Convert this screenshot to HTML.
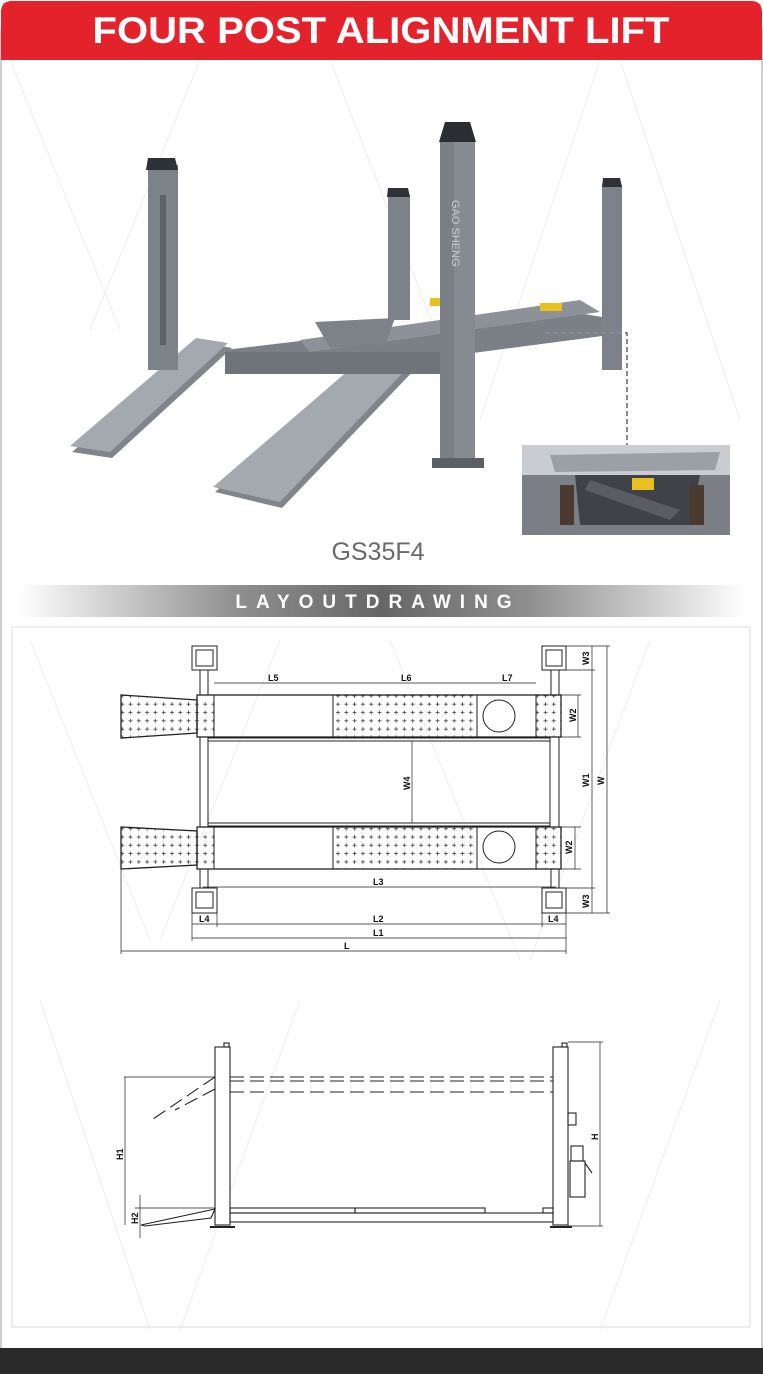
<!DOCTYPE html>
<html><head><meta charset="utf-8"><style>
html,body{margin:0;padding:0;background:#fff;width:763px;height:1374px;overflow:hidden}
svg{display:block}
text{font-family:"Liberation Sans",sans-serif}
</style></head><body>
<svg width="763" height="1374" viewBox="0 0 763 1374" xmlns="http://www.w3.org/2000/svg">
<defs>
<linearGradient id="bg" x1="0" x2="1"><stop offset="0" stop-color="#fff"/><stop offset="0.3" stop-color="#8f8f8f"/><stop offset="0.5" stop-color="#666"/><stop offset="0.7" stop-color="#8f8f8f"/><stop offset="1" stop-color="#fff"/></linearGradient>
<pattern id="pl" x="2" y="3" width="8.3" height="8.3" patternUnits="userSpaceOnUse">
<path d="M4 2 V6 M2 4 H6" stroke="#333" stroke-width="0.7"/>
</pattern>
</defs>
<rect width="763" height="1374" fill="#fff"/>
<rect x="1" y="30" width="761" height="1330" fill="none" stroke="#bdbdbd" stroke-width="1.5"/>
<path d="M1 60 V12 Q1 1 12 1 H751 Q762 1 762 12 V60 Z" fill="#e4222b"/>
<text x="381" y="43" text-anchor="middle" font-size="37" font-weight="bold" fill="#fff" textLength="577" lengthAdjust="spacingAndGlyphs">FOUR POST ALIGNMENT LIFT</text>
<g stroke="#f0f0f0" stroke-width="1.2" fill="none">
<path d="M10 60 L120 330 M200 60 L90 330 M330 60 L470 420 M600 60 L480 420 M620 60 L740 420"/>
<path d="M30 640 L150 940 M280 640 L160 940 M390 640 L520 960 M650 640 L530 960 M40 1000 L150 1330 M300 1000 L180 1330 M720 1000 L600 1330"/>
</g>
<!-- photo -->
<polygon points="72,452 112,458 232,348 200,342" fill="#80858b"/>
<polygon points="70,446 110,452 228,343 196,338" fill="#a4a9af"/>
<polygon points="215,492 282,508 420,364 375,356" fill="#80858b"/>
<polygon points="213,487 280,502 416,359 371,351" fill="#a4a9af"/>
<polygon points="225,350 560,310 620,320 610,335 420,360 230,370" fill="#7b8086"/>
<polygon points="300,340 580,300 600,312 310,352" fill="#8d9298"/>
<rect x="225" y="352" width="230" height="22" fill="#6f747a"/>
<polygon points="315,322 395,318 385,345 330,348" fill="#7d8288"/>
<rect x="430" y="298" width="10" height="8" fill="#e8c020"/>
<rect x="540" y="303" width="22" height="8" fill="#e8c020"/>
<rect x="148" y="165" width="30" height="205" fill="#7d8288"/>
<rect x="160" y="195" width="6" height="150" fill="#5d6268"/>
<polygon points="148,158 175,158 178,170 146,170" fill="#2e3236"/>
<rect x="388" y="195" width="22" height="125" fill="#7d8288"/>
<polygon points="388,188 408,188 410,197 387,197" fill="#2e3236"/>
<rect x="602" y="185" width="20" height="185" fill="#7d8288"/>
<polygon points="603,178 620,178 622,187 602,187" fill="#2e3236"/>
<rect x="440" y="140" width="35" height="322" fill="#868b91"/>
<rect x="440" y="140" width="14" height="322" fill="#7a7f85"/>
<polygon points="445,122 470,122 476,142 439,142" fill="#2a2e32"/>
<rect x="432" y="458" width="52" height="10" fill="#5b6066"/>
<text x="452" y="200" font-size="11" fill="#c9ccd0" transform="rotate(90 452 200)">GAO SHENG</text>
<path d="M545 333 H627 V445" fill="none" stroke="#8a8a8a" stroke-width="2" stroke-dasharray="5,3"/>
<rect x="522" y="445" width="208" height="90" fill="#7c8086"/>
<rect x="522" y="445" width="208" height="30" fill="#c9ccd0"/>
<polygon points="550,455 720,452 715,470 555,472" fill="#9aa0a6"/>
<polygon points="575,475 700,475 690,525 580,525" fill="#3f4347"/>
<polygon points="590,480 680,510 670,520 585,490" fill="#5a5e62"/>
<rect x="632" y="478" width="22" height="12" fill="#e8c020"/>
<rect x="560" y="485" width="14" height="40" fill="#4a3a30"/>
<rect x="690" y="485" width="14" height="40" fill="#4a3a30"/>
<text x="378" y="560" text-anchor="middle" font-size="25" fill="#6a6a6a">GS35F4</text>
<rect x="18" y="585" width="729" height="32" fill="url(#bg)"/>
<text x="378" y="608" text-anchor="middle" font-size="19" font-weight="bold" fill="#fff" letter-spacing="9">LAYOUTDRAWING</text>
<rect x="12" y="627" width="738" height="700" fill="none" stroke="#dcdcdc" stroke-width="1"/>
<!-- TOP VIEW -->
<g stroke="#222" stroke-width="1" fill="none">
<rect x="192" y="646" width="25" height="24" fill="#fff"/><rect x="196" y="650" width="17" height="16"/>
<rect x="542" y="646" width="24" height="24" fill="#fff"/><rect x="546" y="650" width="16" height="16"/>
<rect x="192" y="888" width="25" height="25" fill="#fff"/><rect x="196" y="892" width="17" height="16"/>
<rect x="542" y="888" width="24" height="25" fill="#fff"/><rect x="546" y="892" width="16" height="16"/>
<rect x="200" y="670" width="8" height="25"/><rect x="551" y="670" width="8" height="25"/>
<rect x="200" y="869" width="8" height="19"/><rect x="551" y="869" width="8" height="19"/>
<rect x="200" y="737" width="8" height="90"/><rect x="550" y="737" width="9" height="90"/>
<line x1="208" y1="738" x2="550" y2="738"/><line x1="208" y1="741" x2="550" y2="741"/>
<line x1="208" y1="823" x2="550" y2="823"/><line x1="208" y1="826" x2="550" y2="826"/>
<rect x="333" y="695" width="144" height="42" fill="url(#pl)" stroke="none"/>
<rect x="536" y="695" width="25" height="42" fill="url(#pl)" stroke="none"/>
<rect x="333" y="827" width="144" height="42" fill="url(#pl)" stroke="none"/>
<rect x="536" y="827" width="25" height="42" fill="url(#pl)" stroke="none"/>
<rect x="197" y="695" width="364" height="42" stroke-width="1.3"/>
<rect x="197" y="827" width="364" height="42" stroke-width="1.3"/>
<line x1="214" y1="695" x2="214" y2="737"/><line x1="333" y1="695" x2="333" y2="737"/><line x1="477" y1="695" x2="477" y2="737"/><line x1="536" y1="695" x2="536" y2="737"/>
<line x1="214" y1="827" x2="214" y2="869"/><line x1="333" y1="827" x2="333" y2="869"/><line x1="477" y1="827" x2="477" y2="869"/><line x1="536" y1="827" x2="536" y2="869"/>
<circle cx="499" cy="716" r="16"/><circle cx="499" cy="847" r="16"/>
<polygon points="121,695 197,700 197,733 121,738" stroke-width="1.3" fill="url(#pl)"/>
<polygon points="121,827 197,831 197,865 121,869" stroke-width="1.3" fill="url(#pl)"/>
<rect x="197" y="700" width="17" height="33" fill="url(#pl)" stroke="none"/>
<rect x="197" y="831" width="17" height="34" fill="url(#pl)" stroke="none"/>
<g stroke-width="0.7">
<line x1="214" y1="683" x2="536" y2="683"/>
<line x1="412" y1="741" x2="412" y2="823"/>
<line x1="203" y1="887" x2="556" y2="887"/>
<line x1="192" y1="924" x2="566" y2="924"/>
<line x1="192" y1="938" x2="566" y2="938"/>
<line x1="121" y1="951" x2="566" y2="951"/>
<line x1="121" y1="869" x2="121" y2="954"/><line x1="192" y1="913" x2="192" y2="941"/><line x1="566" y1="913" x2="566" y2="954"/>
<line x1="217" y1="913" x2="217" y2="927"/><line x1="542" y1="913" x2="542" y2="927"/>
<line x1="566" y1="646" x2="610" y2="646"/><line x1="566" y1="670" x2="595" y2="670"/><line x1="566" y1="888" x2="595" y2="888"/><line x1="566" y1="913" x2="610" y2="913"/>
<line x1="561" y1="695" x2="581" y2="695"/><line x1="561" y1="737" x2="581" y2="737"/><line x1="561" y1="827" x2="581" y2="827"/><line x1="561" y1="869" x2="581" y2="869"/>
<line x1="592" y1="646" x2="592" y2="913"/><line x1="607" y1="646" x2="607" y2="913"/>
<line x1="578" y1="695" x2="578" y2="737"/><line x1="575" y1="827" x2="575" y2="869"/>
</g>
</g>
<g fill="#111" font-size="9" font-weight="bold">
<text x="268" y="681">L5</text><text x="401" y="681">L6</text><text x="502" y="681">L7</text>
<text x="373" y="885">L3</text><text x="373" y="922">L2</text><text x="373" y="936">L1</text><text x="344" y="949">L</text>
<text x="199" y="922">L4</text><text x="548" y="922">L4</text>
<text transform="translate(410 790) rotate(-90)">W4</text>
<text transform="translate(589 665) rotate(-90)">W3</text><text transform="translate(589 908) rotate(-90)">W3</text>
<text transform="translate(589 787) rotate(-90)">W1</text><text transform="translate(604 785) rotate(-90)">W</text>
<text transform="translate(576 722) rotate(-90)">W2</text><text transform="translate(572 854) rotate(-90)">W2</text>
</g>
<!-- SIDE VIEW -->
<g stroke="#222" stroke-width="1.1" fill="none">
<rect x="215" y="1047" width="15" height="178" fill="#fff"/><rect x="553" y="1047" width="15" height="178" fill="#fff"/>
<rect x="224" y="1043" width="5" height="4"/><rect x="562" y="1043" width="5" height="4"/>
<line x1="210" y1="1227" x2="235" y2="1227" stroke-width="2"/><line x1="550" y1="1227" x2="572" y2="1227" stroke-width="2"/>
<g stroke-dasharray="14,6"><line x1="230" y1="1077" x2="553" y2="1077"/><line x1="230" y1="1081" x2="553" y2="1081"/><line x1="230" y1="1092" x2="553" y2="1092"/>
<line x1="215" y1="1077" x2="153" y2="1119"/><line x1="215" y1="1089" x2="175" y2="1110"/></g>
<rect x="230" y="1208" width="125" height="5"/><rect x="355" y="1208" width="130" height="5"/><rect x="543" y="1208" width="10" height="5"/>
<rect x="230" y="1213" width="323" height="9"/>
<polygon points="141,1225 215,1209 211,1218 145,1226"/>
<rect x="568" y="1113" width="8" height="12"/>
<rect x="571" y="1146" width="12" height="15"/><rect x="570" y="1161" width="15" height="36"/>
<line x1="585" y1="1163" x2="592" y2="1173"/>
<g stroke-width="0.7">
<line x1="124" y1="1077" x2="215" y2="1077"/><line x1="125" y1="1077" x2="125" y2="1225"/>
<line x1="135" y1="1208" x2="215" y2="1208"/><line x1="140" y1="1195" x2="140" y2="1238"/>
<line x1="568" y1="1042" x2="603" y2="1042"/><line x1="568" y1="1226" x2="603" y2="1226"/><line x1="600" y1="1042" x2="600" y2="1226"/>
</g>
</g>
<g fill="#111" font-size="9" font-weight="bold">
<text transform="translate(123 1160) rotate(-90)">H1</text>
<text transform="translate(138 1224) rotate(-90)">H2</text>
<text transform="translate(598 1140) rotate(-90)">H</text>
</g>
<rect x="0" y="1348" width="763" height="26" fill="#2b2a2a"/>
</svg>
</body></html>
